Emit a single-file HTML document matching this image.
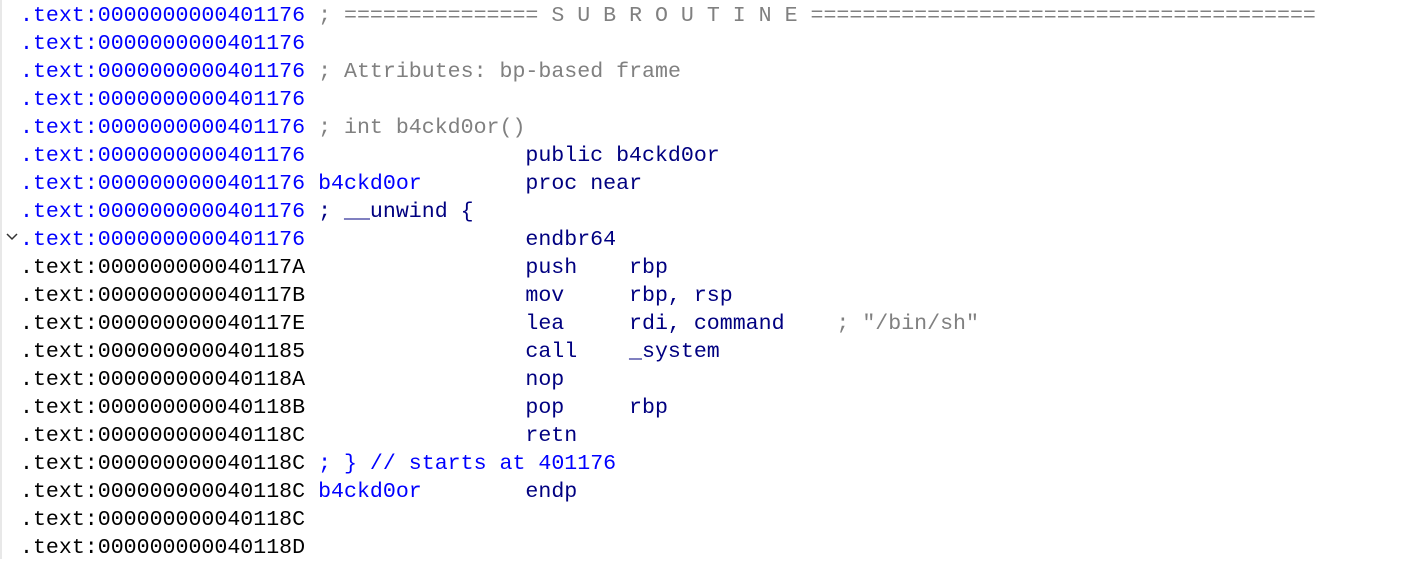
<!DOCTYPE html>
<html><head><style>
html,body{margin:0;padding:0;background:#fff;width:1408px;height:559px;overflow:hidden;}
.wrap{position:absolute;left:0;top:0;width:1408px;height:559px;border-left:2px solid #e8e8e8;box-sizing:border-box;}
pre{position:absolute;left:18px;top:2px;margin:0;font-family:"Liberation Mono",monospace;font-size:21.6px;line-height:28px;color:#000;}
.a{color:#0000ff}.c{color:#808080}.n{color:#000080}.k{color:#000}
svg{position:absolute;left:4px;top:233px;}
</style></head><body><div class="wrap">
<svg width="12" height="8" viewBox="0 0 12 8"><polyline points="1,1 6,6 11,1" fill="none" stroke="#333" stroke-width="1.5"/></svg>
<pre><span class="a">.text:0000000000401176</span> <span class="c">; =============== S U B R O U T I N E =======================================</span>
<span class="a">.text:0000000000401176</span>
<span class="a">.text:0000000000401176</span> <span class="c">; Attributes: bp-based frame</span>
<span class="a">.text:0000000000401176</span>
<span class="a">.text:0000000000401176</span> <span class="c">; int b4ckd0or()</span>
<span class="a">.text:0000000000401176</span>                 <span class="n">public b4ckd0or</span>
<span class="a">.text:0000000000401176</span> <span class="a">b4ckd0or</span>        <span class="n">proc near</span>
<span class="a">.text:0000000000401176</span> <span class="n">; __unwind {</span>
<span class="a">.text:0000000000401176</span>                 <span class="n">endbr64</span>
<span class="k">.text:000000000040117A</span>                 <span class="n">push    rbp</span>
<span class="k">.text:000000000040117B</span>                 <span class="n">mov     rbp, rsp</span>
<span class="k">.text:000000000040117E</span>                 <span class="n">lea     rdi, command</span>    <span class="c">; "/bin/sh"</span>
<span class="k">.text:0000000000401185</span>                 <span class="n">call    _system</span>
<span class="k">.text:000000000040118A</span>                 <span class="n">nop</span>
<span class="k">.text:000000000040118B</span>                 <span class="n">pop     rbp</span>
<span class="k">.text:000000000040118C</span>                 <span class="n">retn</span>
<span class="k">.text:000000000040118C</span> <span class="a">; } // starts at 401176</span>
<span class="k">.text:000000000040118C</span> <span class="a">b4ckd0or</span>        <span class="n">endp</span>
<span class="k">.text:000000000040118C</span>
<span class="k">.text:000000000040118D</span></pre>
</div></body></html>
